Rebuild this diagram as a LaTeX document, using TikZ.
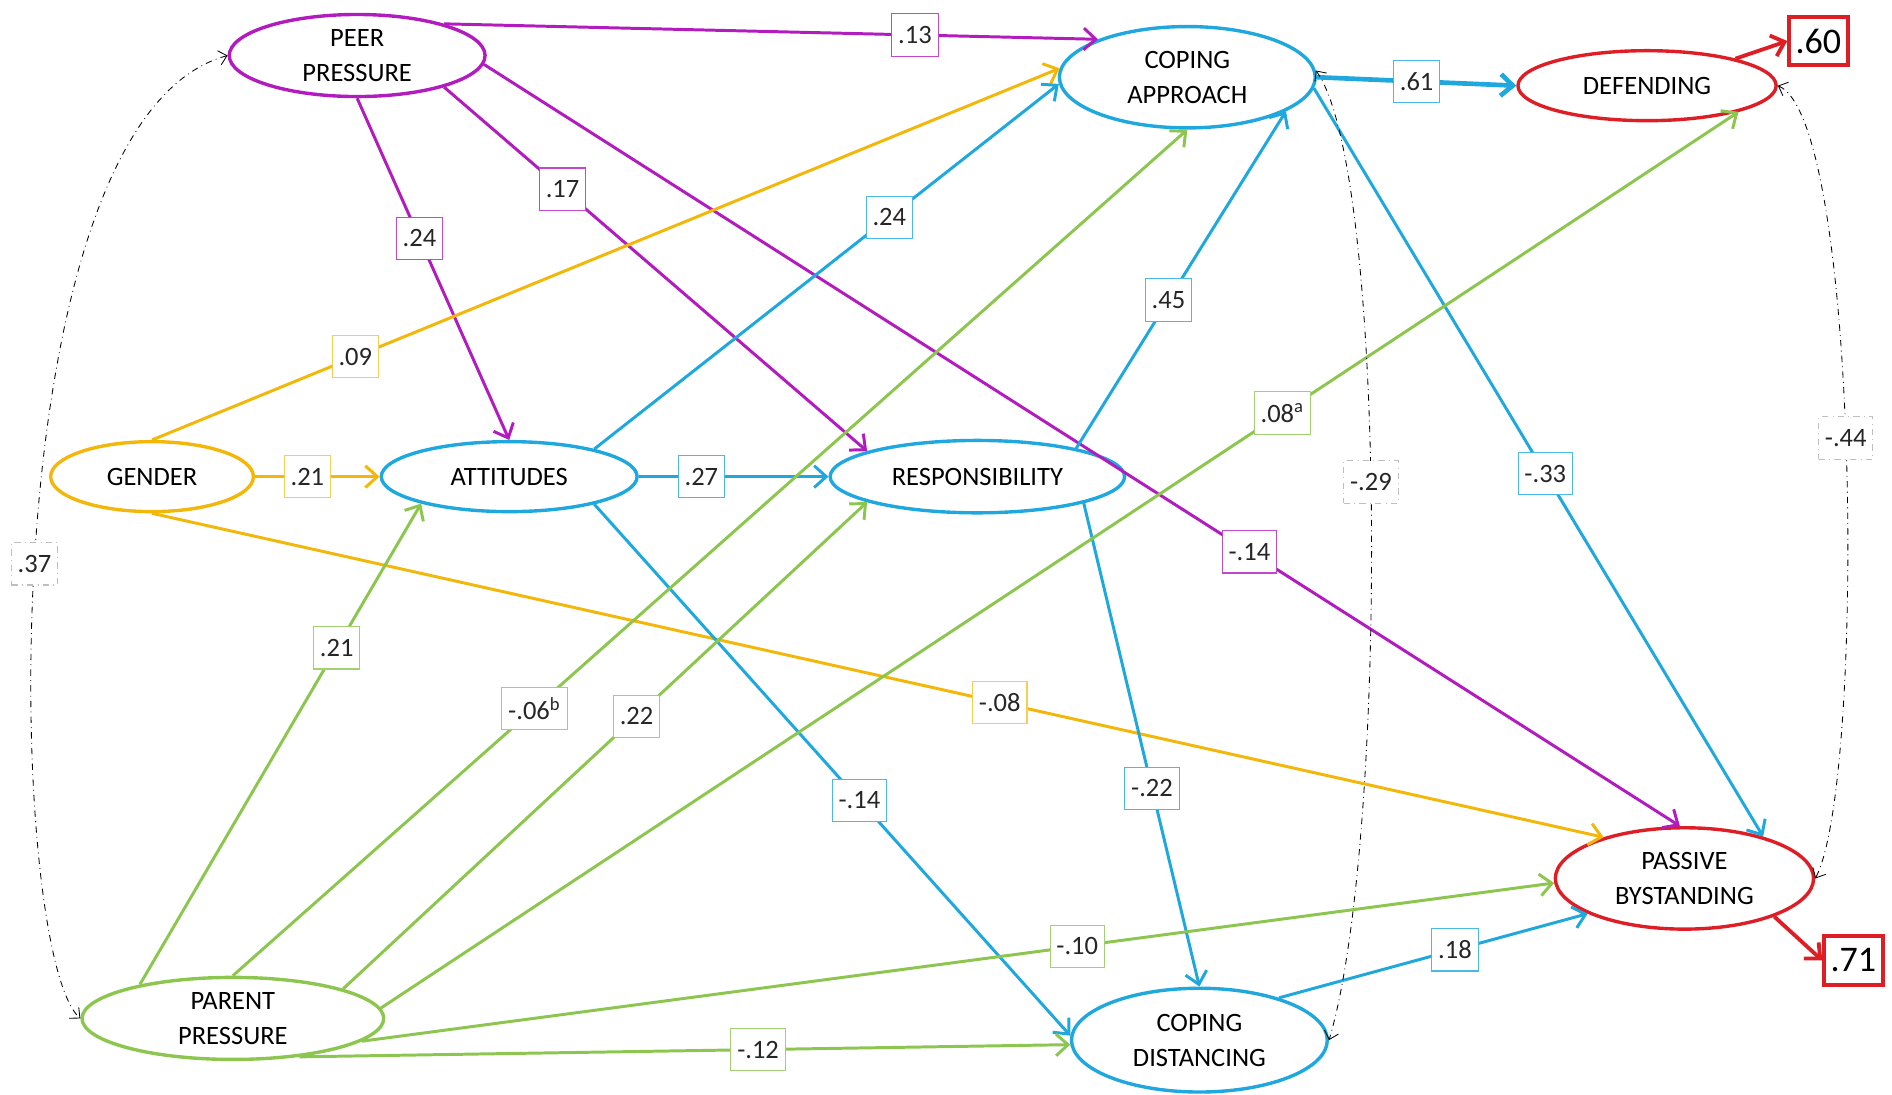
\documentclass[tikz,border=0pt]{standalone}
\usepackage{fontspec}
\setmainfont{Carlito}
\usetikzlibrary{arrows.meta,shapes.geometric,positioning}
\definecolor{peerc}{RGB}{178,28,190}
\definecolor{attc}{RGB}{30,168,222}
\definecolor{genc}{RGB}{243,183,10}
\definecolor{parc}{RGB}{140,198,78}
\definecolor{outc}{RGB}{222,30,36}
\tikzset{
  var/.style={ellipse, draw, line width=1.6pt, inner sep=0pt, align=center},
  coef/.style={draw, fill=white, line width=0.5pt, inner xsep=3pt, inner ysep=0pt, minimum height=7mm, text=black!85},
  eff/.style={line width=1.4pt, -{Straight Barb[length=2mm,width=3.6mm]}},
  cov/.style={black, line width=0.4pt, dash dot, {Straight Barb[length=1.3mm,width=2.4mm]}-{Straight Barb[length=1.3mm,width=2.4mm]}},
  rsq/.style={draw=outc, line width=1.8pt, fill=white, inner xsep=3pt, inner ysep=0pt, minimum height=8mm, font=\fontsize{17}{20}\selectfont}
}

\begin{document}
\begin{tikzpicture}[x=0.2mm, y=-0.2mm, font=\fontsize{12.5}{16.5}\selectfont]
\useasboundingbox (0,0) rectangle (1568,907);

% Draw variables.
\node[var, draw=peerc, minimum width=42.4mm, minimum height=13.6mm] (peer) at (296,46) {PEER\\PRESSURE};
\node[var, draw=genc, minimum width=33.6mm, minimum height=11.6mm] (gender) at (126,395) {GENDER};
\node[var, draw=parc, minimum width=50mm, minimum height=13.6mm] (parent) at (193,844) {PARENT\\PRESSURE};
\node[var, draw=attc, minimum width=42.4mm, minimum height=11.6mm] (att) at (422,395) {ATTITUDES};
\node[var, draw=attc, minimum width=48.8mm, minimum height=12mm] (resp) at (810,395) {RESPONSIBILITY};
\node[var, draw=attc, minimum width=42.4mm, minimum height=16.8mm] (copA) at (984,64) {COPING\\APPROACH};
\node[var, draw=attc, minimum width=42.4mm, minimum height=17.2mm] (copD) at (994,862) {COPING\\DISTANCING};
\node[var, draw=outc, minimum width=42.8mm, minimum height=11.6mm] (defend) at (1365,71) {DEFENDING};
\node[var, draw=outc, minimum width=42.8mm, minimum height=16.8mm] (passive) at (1396,728) {PASSIVE\\BYSTANDING};

% Draw explained variance.
\node[rsq] (r60) at (1507,34) {.60};
\node[rsq] (r71) at (1536,796) {.71};
\draw[eff, outc, line width=1.8pt] (defend.17) -- (r60.west);
\draw[eff, outc, line width=1.8pt] (passive.-23) -- (r71.west);

% Peer pressure paths.
\draw[eff, peerc] (peer.20) -- (copA.157) node[coef, draw=peerc!80, pos=0.72] (c13) {.13};
\draw[eff, peerc] (peer.south) -- (att.north) node[coef, draw=peerc!80, pos=0.41] (c24p) {.24};
\draw[eff, peerc] (peer.-20) -- (resp.167) node[coef, draw=peerc!80, pos=0.28] (c17) {.17};
\draw[eff, peerc] (peer.-4) -- (passive.95) node[coef, draw=peerc!80, pos=0.64] (c14p) {-.14};

% Gender paths.
\draw[eff, genc] (gender.north) -- (copA.176) node[coef, draw=genc!70, pos=0.224] (c09) {.09};
\draw[eff, genc] (gender.east) -- (att.west) node[coef, draw=genc!70, pos=0.42] (c21g) {.21};
\draw[eff, genc] (gender.south) -- (passive.153) node[coef, draw=genc!70, pos=0.584] (c08) {-.08};

% Attitudes and responsibility paths.
\draw[eff, attc] (att.18) -- (copA.183) node[coef, draw=attc!80, pos=0.635] (c24a) {.24};
\draw[eff, attc] (att.east) -- (resp.west) node[coef, draw=attc!80, pos=0.33] (c27) {.27};
\draw[eff, attc] (att.-18) -- (copD.178) node[coef, draw=attc!80, pos=0.557] (c14a) {-.14};
\draw[eff, attc] (resp.16) -- (copA.-19) node[coef, draw=attc!80, pos=0.44] (c45) {.45};
\draw[eff, attc] (resp.-14) -- (copD.north) node[coef, draw=attc!80, pos=0.59] (c22r) {-.22};

% Coping paths.
\draw[eff, attc, line width=2.2pt] (copA.east) -- (defend.west) node[coef, draw=attc!80, pos=0.5] (c61) {.61};
\draw[eff, attc] (copA.-5) -- (passive.28) node[coef, draw=attc!80, pos=0.515] (c33) {-.33};
\draw[eff, attc] (copD.28) -- (passive.200) node[coef, draw=attc!80, pos=0.57] (c18) {.18};

% Parent pressure paths.
\draw[eff, parc] (parent.160) -- (att.-163) node[coef, draw=parc!80, pos=0.7] (c21p) {.21};
\draw[eff, parc] (parent.north) -- (copA.south) node[coef, draw=parc!80, pos=0.316] (c06) {-.06\textsuperscript{b}};
\draw[eff, parc] (parent.15) -- (resp.193) node[coef, draw=parc!80, pos=0.56] (c22p) {.22};
\draw[eff, parc] (parent.4) -- (defend.-16) node[coef, draw=parc!80, pos=0.664] (c08a) {.08\textsuperscript{a}};
\draw[eff, parc] (parent.-10) -- (passive.182) node[coef, draw=parc!80, pos=0.6] (c10) {-.10};
\draw[eff, parc] (parent.-30) -- (copD.182) node[coef, draw=parc!80, pos=0.595] (c12) {-.12};

% Draw covariances.
\draw[cov] (peer.west) .. controls (-10,100) and (5,790) .. (parent.west) node[coef, draw=gray!50, pos=0.52] (c37) {.37};
\draw[cov] (copA.3) .. controls (1150,140) and (1150,700) .. (copD.east) node[coef, draw=gray!50, pos=0.47] (c29) {-.29};
\draw[cov] (defend.east) .. controls (1542,100) and (1546,650) .. (passive.east) node[coef, draw=gray!50, pos=0.48] (c44) {-.44};
\end{tikzpicture}
\end{document}
